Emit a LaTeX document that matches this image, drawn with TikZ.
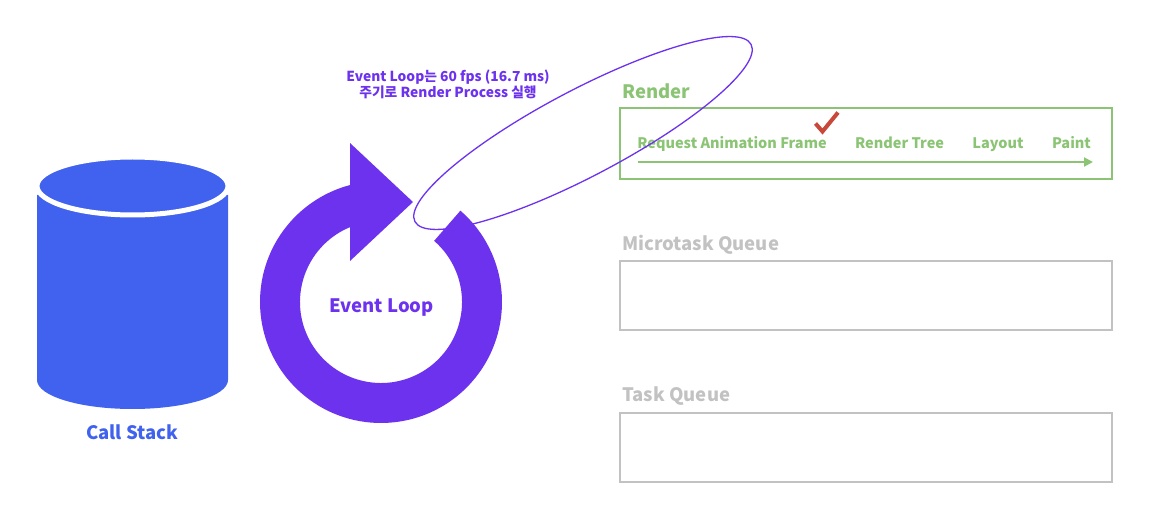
\documentclass[tikz,border=0pt]{standalone}
\usepackage{fontspec}
\setmainfont{Noto Sans CJK KR}
\usetikzlibrary{positioning}
\usetikzlibrary{arrows.meta}
\usetikzlibrary{calc}

\definecolor{csblue}{RGB}{64,98,238}
\definecolor{loopviolet}{RGB}{108,50,238}
\definecolor{rendergreen}{RGB}{139,196,116}
\definecolor{qgray}{RGB}{194,194,194}
\definecolor{checkred}{RGB}{200,72,58}

\begin{document}
\begin{tikzpicture}[
    x=1pt, y=-1pt,
    qbox/.style={rectangle, draw=qgray, line width=2pt, minimum width=492pt, minimum height=69pt, inner sep=0pt},
    qtitle/.style={font=\bfseries\fontsize{18.5}{18.5}\selectfont, text=qgray, inner sep=0pt, anchor=base west},
    steptext/.style={font=\bfseries\fontsize{14.5}{14.5}\selectfont, text=rendergreen, inner sep=0pt},
    biglabel/.style={font=\bfseries\fontsize{18.5}{18.5}\selectfont, inner sep=0pt, anchor=base},
]
    \useasboundingbox (0,0) rectangle (1149,521);

    % queues on the right
    \node[qbox, draw=rendergreen, minimum height=71pt] (renderq) at (866,143.5) {};
    \node[qbox] (microq) at (866,295.5) {};
    \node[qbox] (taskq) at (866,447.5) {};

    \node[qtitle, text=rendergreen] (rendert) [above right=8pt and 3pt of renderq.north west, anchor=base west] {Render};
    \node[qtitle] (microt) [above right=9pt and 3pt of microq.north west, anchor=base west] {Microtask Queue};
    \node[qtitle] (taskt) [above right=10pt and 3pt of taskq.north west, anchor=base west] {Task Queue};

    % render steps
    \node[steptext, anchor=base] (raf) at (732,149) {Request Animation Frame};
    \node[steptext] (rtree) [base right=28pt of raf] {Render Tree};
    \node[steptext] (layout) [base right=28pt of rtree] {Layout};
    \node[steptext] (paint) [base right=28pt of layout] {Paint};

    \coordinate (flowstart) at (638,162);
    \coordinate (flowend) at (1093,162);
    \draw[rendergreen, line width=2pt, -{Triangle[length=9pt,width=9pt]}] (flowstart) -- (flowend);

    \draw[checkred, line width=4pt] (815.5,123.5) -- (822.5,131.5) -- (838,112.5);

    % render period ellipse
    \draw[loopviolet, line width=1.3pt, rotate around={27.8:(583,133)}] (583,133) ellipse[x radius=190, y radius=43];

    % call stack
    \fill[csblue] (37,195) -- (37,380) arc[start angle=180, end angle=0, x radius=95.5, y radius=29] -- (228,195) -- cycle;
    \filldraw[fill=csblue, draw=white, line width=5pt] (132.5,186) ellipse[x radius=95.5, y radius=29];
    \node[biglabel, text=csblue] (callstack) at (132,439) {Call Stack};

    % event loop
    \coordinate (loopc) at (381,302);
    \fill[loopviolet] ($(loopc)+(-49:121)$) arc[start angle=-49, end angle=255.2, radius=121]
        -- ($(loopc)+(247.5:81)$) arc[start angle=247.5, end angle=-49, radius=81] -- cycle;
    \fill[loopviolet] (350,143) -- (413,202) -- (350,261) -- cycle;
    \node[biglabel, text=loopviolet] (looplabel) at (381.5,313) {Event Loop};

    \node[font=\bfseries\fontsize{13.8}{16}\selectfont, text=loopviolet, align=center, inner sep=0pt, anchor=base] (period) at (448,98) {Event Loop는 60 fps (16.7 ms)\\주기로 Render Process 실행};
\end{tikzpicture}
\end{document}
